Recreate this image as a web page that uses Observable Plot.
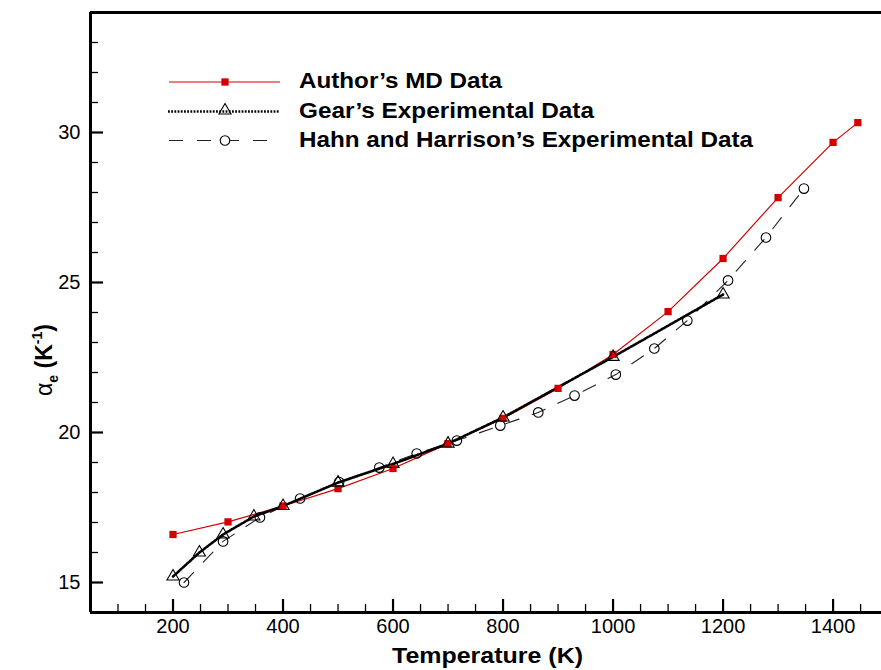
<!DOCTYPE html>
<html><head><meta charset="utf-8">
<script src="https://cdn.jsdelivr.net/npm/d3@7"></script>
<script src="https://cdn.jsdelivr.net/npm/@observablehq/plot@0.6"></script>
<style>html,body{margin:0;padding:0;background:#fff;overflow:hidden}</style>
</head><body><div id="chart"></div>
<script>
// Author's MD data
const mdT = [200, 300, 400, 500, 600, 700, 800, 900, 1000, 1100, 1200, 1300, 1400, 1445];
const mdA = [16.6, 17.02, 17.55, 18.13, 18.8, 19.63, 20.47, 21.47, 22.6, 24.03, 25.8, 27.83, 29.67, 30.33];
// Gear's experimental data
const gearT = [200, 248, 291, 347, 400, 500, 600, 700, 800, 1000, 1200];
const gearA = [15.2, 16.0, 16.6, 17.2, 17.55, 18.33, 18.95, 19.63, 20.5, 22.52, 24.6];
// Hahn and Harrison's experimental data
const hhT = [220, 291, 358, 431, 502, 575, 643, 716, 795, 864, 930, 1005, 1075, 1135, 1209, 1278, 1347];
const hhA = [15.0, 16.37, 17.17, 17.8, 18.35, 18.83, 19.3, 19.73, 20.23, 20.67, 21.23, 21.93, 22.8, 23.73, 25.07, 26.5, 28.13];

const seriesNames = ["Author\u2019s MD Data", "Gear\u2019s Experimental Data", "Hahn and Harrison\u2019s Experimental Data"];
const xMajor = [200, 400, 600, 800, 1000, 1200, 1400];
const xMinor = [100, 150, 250, 300, 350, 450, 500, 550, 650, 700, 750, 850, 900, 950, 1050, 1100, 1150, 1250, 1300, 1350, 1450];
const yMajor = [15, 20, 25, 30];
const yMinor = [16, 17, 18, 19, 21, 22, 23, 24, 26, 27, 28, 29, 31, 32, 33];

const md = mdT.map((T, i) => ({T, a: mdA[i]}));
const gear = gearT.map((T, i) => ({T, a: gearA[i]}));
const hh = hhT.map((T, i) => ({T, a: hhA[i]}));

const RED = "#d40000";
const GEAR_DASH = "1.8,1.4";
const plot = Plot.plot({
  width: 881, height: 670,
  marginLeft: 90, marginRight: 0, marginTop: 12, marginBottom: 58,
  style: {fontFamily: "'Liberation Sans', Arial, sans-serif", fontSize: "20px", color: "#000", background: "#fff"},
  x: {domain: [50, 1488], label: null},
  y: {domain: [14, 34], label: null},
  marks: [
    Plot.axisX(xMajor, {tickSize: 0, tickPadding: 6, fontSize: 20, label: null, tickFormat: d => String(d)}),
    Plot.axisX(xMajor, {tickSize: -13, strokeWidth: 2.2, stroke: "#000", tickFormat: () => "", label: null}),
    Plot.axisX(xMinor, {tickSize: -8, strokeWidth: 1.3, stroke: "#000", tickFormat: () => "", label: null}),
    Plot.axisY(yMajor, {tickSize: 0, tickPadding: 10, fontSize: 20, label: null, tickFormat: d => String(d)}),
    Plot.axisY(yMajor, {tickSize: -13, strokeWidth: 2.2, stroke: "#000", tickFormat: () => "", label: null}),
    Plot.axisY(yMinor, {tickSize: -8, strokeWidth: 1.3, stroke: "#000", tickFormat: () => "", label: null}),
    Plot.ruleX([50], {stroke: "#000", strokeWidth: 3}),
    Plot.ruleY([14], {stroke: "#000", strokeWidth: 3}),
    Plot.ruleY([34], {stroke: "#000", strokeWidth: 3}),
    Plot.line(hh, {x: "T", y: "a", stroke: "#222", strokeWidth: 1.1, strokeDasharray: "14,14"}),
    Plot.line(md, {x: "T", y: "a", stroke: RED, strokeWidth: 1.2}),
    Plot.line(gear, {x: "T", y: "a", stroke: "#000", strokeWidth: 2.6, strokeDasharray: GEAR_DASH}),
    Plot.dot(hh, {x: "T", y: "a", symbol: "circle", r: 4.8, fill: "none", stroke: "#000", strokeWidth: 1.1}),
    Plot.dot(md, {x: "T", y: "a", symbol: "square", r: 4.1, fill: RED, stroke: "none"}),
    Plot.dot(gear, {x: "T", y: "a", symbol: "triangle", r: 4.5, fill: "none", stroke: "#000", strokeWidth: 1.1})
  ]
});
document.getElementById("chart").appendChild(plot);

const svg = d3.select(plot);
const FONT = "'Liberation Sans', Arial, sans-serif";
// Axis titles
svg.append("text").attr("x", 487.5).attr("y", 663).attr("text-anchor", "middle")
  .attr("font-family", FONT).attr("font-weight", "bold").attr("font-size", 22)
  .attr("textLength", 191).attr("lengthAdjust", "spacingAndGlyphs").attr("fill", "#000")
  .text("Temperature (K)");
const yl = svg.append("text").attr("transform", "translate(52,360) rotate(-90)").attr("text-anchor", "middle")
  .attr("font-family", FONT).attr("font-size", 23).attr("fill", "#000");
yl.append("tspan").text("\u03b1");
yl.append("tspan").attr("font-size", 14).attr("font-weight", "bold").attr("dy", 6).text("e");
yl.append("tspan").attr("font-weight", "bold").attr("dy", -6).text(" (K");
yl.append("tspan").attr("font-size", 14).attr("font-weight", "bold").attr("dy", -10).text("-1");
yl.append("tspan").attr("font-weight", "bold").attr("dy", 10).text(")");

// Legend
const lg = svg.append("g");
const rows = [
  {y: 82, name: seriesNames[0], len: 203},
  {y: 111.5, name: seriesNames[1], len: 295},
  {y: 140.5, name: seriesNames[2], len: 454}
];
lg.append("line").attr("x1", 169).attr("x2", 280).attr("y1", rows[0].y).attr("y2", rows[0].y).attr("stroke", RED).attr("stroke-width", 1.2);
lg.append("path").attr("transform", `translate(225,${rows[0].y})`).attr("d", d3.symbol(d3.symbolSquare, 4.1 * 4.1 * Math.PI)()).attr("fill", RED);
lg.append("line").attr("x1", 168).attr("x2", 280).attr("y1", rows[1].y).attr("y2", rows[1].y).attr("stroke", "#000").attr("stroke-width", 2.6).attr("stroke-dasharray", GEAR_DASH);
lg.append("path").attr("transform", `translate(225,${rows[1].y - 1})`).attr("d", d3.symbol(d3.symbolTriangle, 4.5 * 4.5 * Math.PI)()).attr("fill", "none").attr("stroke", "#000").attr("stroke-width", 1.1);
lg.append("line").attr("x1", 169).attr("x2", 280).attr("y1", rows[2].y).attr("y2", rows[2].y).attr("stroke", "#222").attr("stroke-width", 1.1).attr("stroke-dasharray", "14,14");
lg.append("circle").attr("cx", 225).attr("cy", rows[2].y).attr("r", 4.8).attr("fill", "#fff").attr("stroke", "#000").attr("stroke-width", 1.1);
rows.forEach(r => {
  lg.append("text").attr("x", 299).attr("y", r.y + 6).attr("text-anchor", "start").attr("font-family", FONT).attr("font-weight", "bold")
    .attr("font-size", 22).attr("textLength", r.len).attr("lengthAdjust", "spacingAndGlyphs").attr("fill", "#000").text(r.name);
});
</script>
</body></html>
